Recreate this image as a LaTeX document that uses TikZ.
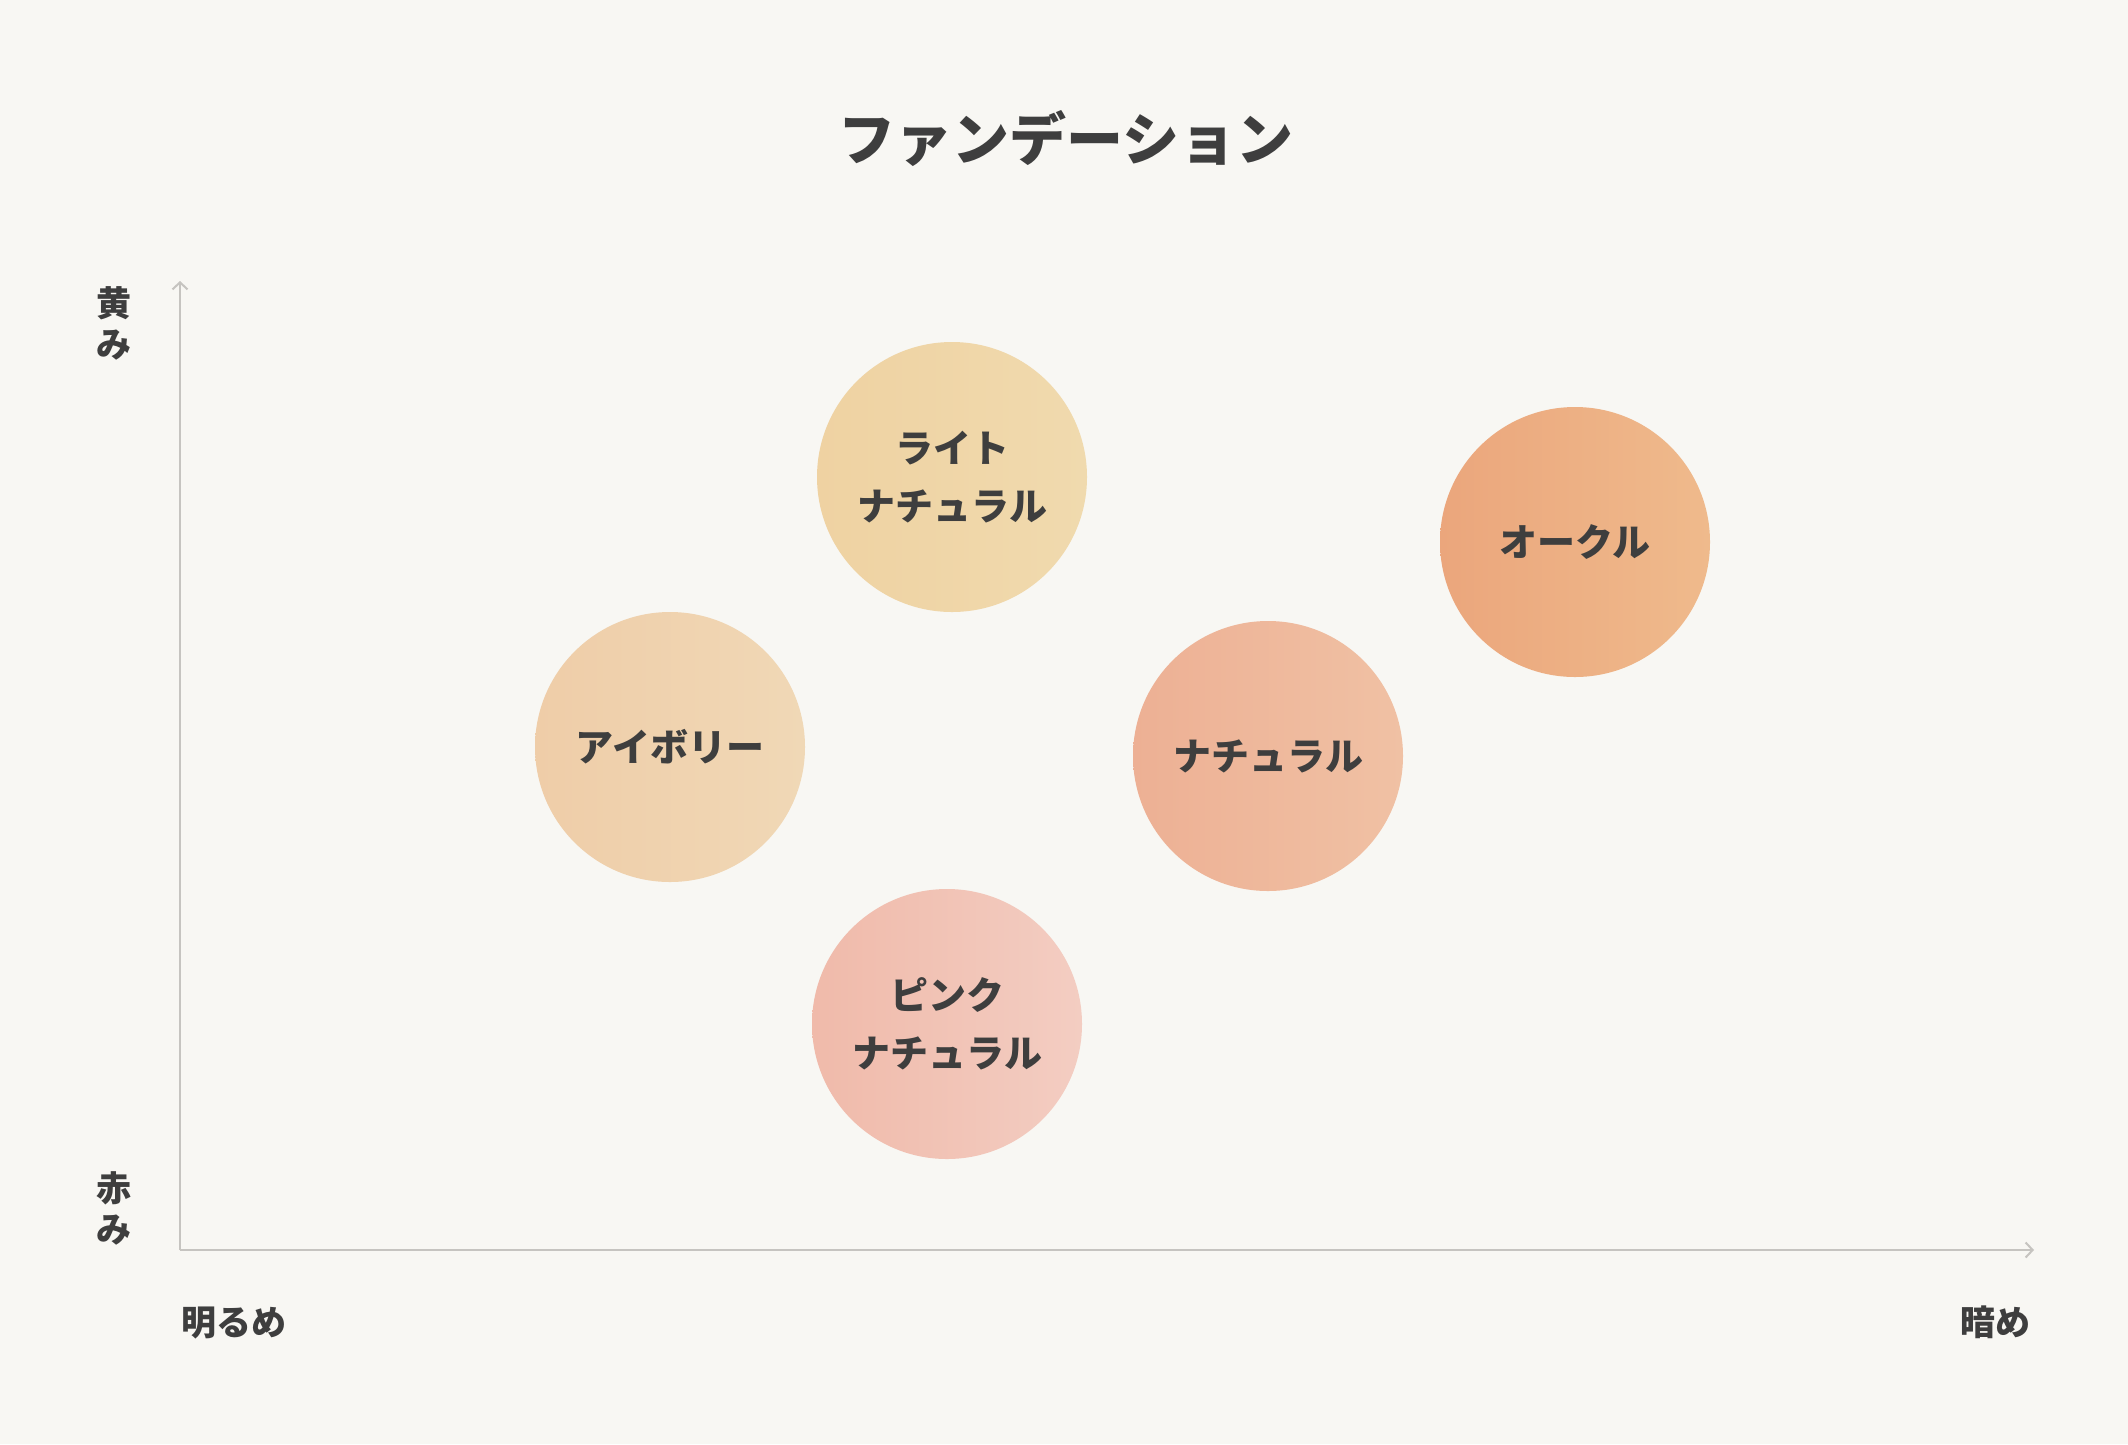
\documentclass[tikz,border=0pt]{standalone}
\usepackage{fontspec}
\setmainfont{Noto Sans CJK JP}
\usetikzlibrary{arrows.meta}
\definecolor{bg}{HTML}{F8F7F3}
\definecolor{ink}{HTML}{3E3E3E}
\definecolor{axisgray}{HTML}{C6C4C0}
\definecolor{lightA}{HTML}{EFD2A2}
\definecolor{lightB}{HTML}{F0DAAE}
\definecolor{ivoryA}{HTML}{EFCDA8}
\definecolor{ivoryB}{HTML}{F0D8B6}
\definecolor{naturalA}{HTML}{EDB094}
\definecolor{naturalB}{HTML}{F0C1A4}
\definecolor{ochreA}{HTML}{EBA67C}
\definecolor{ochreB}{HTML}{EFBA8C}
\definecolor{pinkA}{HTML}{F0BAAA}
\definecolor{pinkB}{HTML}{F3CDC2}
\begin{document}
\begin{tikzpicture}[x=1pt,y=-1pt]
	\tikzstyle{every node}+=[inner sep=0pt]
	\tikzstyle{axis}=[draw=axisgray, line width=2pt, -{Straight Barb[length=7pt,width=15pt,line width=2pt]}]
	\tikzstyle{swatch}=[circle, minimum size=270pt, align=center, text=ink, shading=axis, shading angle=60, font=\bfseries\fontsize{38}{58}\selectfont]
	\tikzstyle{axislabel}=[text=ink, align=center, font=\bfseries\fontsize{35}{41}\selectfont]
	\fill [bg] (0,0) rectangle (2128,1444);
	\useasboundingbox (0,0) rectangle (2128,1444);
	\node (title) [text=ink, font=\bfseries\fontsize{57}{64}\selectfont] at (1066,139) {ファンデーション};
	% axes
	\coordinate (origin) at (180,1250);
	\coordinate (ytop) at (180,281);
	\coordinate (xend) at (2034,1250);
	\draw [axis] (origin) -- (ytop);
	\draw [axis] (origin) -- (xend);
	\node (yellow) [axislabel] at (114,323) {黄\\み};
	\node (red) [axislabel] at (114,1208) {赤\\み};
	\node (bright) [axislabel, anchor=west] at (181,1323) {明るめ};
	\node (dark) [axislabel, anchor=east] at (2031,1322) {暗め};
	% swatches
	\node (lightnat) [swatch, left color=lightA, right color=lightB] at (952,477) {ライト\\ナチュラル};
	\node (ivory) [swatch, left color=ivoryA, right color=ivoryB] at (670,747) {アイボリー};
	\node (natural) [swatch, left color=naturalA, right color=naturalB] at (1268,756) {ナチュラル};
	\node (ochre) [swatch, left color=ochreA, right color=ochreB] at (1575,542) {オークル};
	\node (pinknat) [swatch, left color=pinkA, right color=pinkB] at (947,1024) {ピンク\\ナチュラル};
\end{tikzpicture}
\end{document}
